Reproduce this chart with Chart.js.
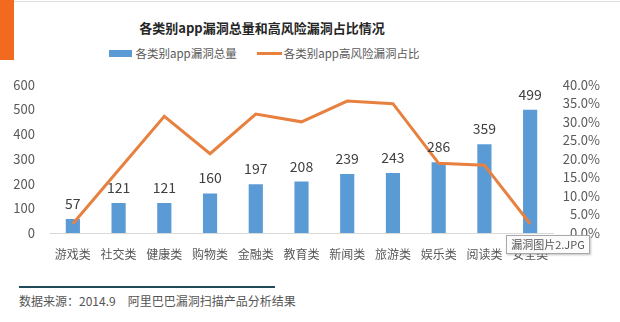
<!DOCTYPE html>
<html>
<head>
<meta charset="utf-8">
<script src="https://cdn.jsdelivr.net/npm/chart.js@4/dist/chart.umd.min.js"></script>
<style>
  body { margin: 0; width: 620px; height: 322px; background: #fff; position: relative; overflow: hidden;
         font-family: "Microsoft YaHei", "Noto Sans CJK SC", sans-serif; }
  #tab { position: absolute; left: 0; top: 0; width: 14px; height: 60px; background: #f26a1f; }
  #topline { position: absolute; left: 14px; top: 1px; right: 0; height: 1px; background: #dedede; }
  #title { position: absolute; left: 0; top: 18px; width: 524px; text-align: center;
           font-size: 13px; font-weight: bold; color: #262626; }
  #legend { position: absolute; left: 0; top: 45px; width: 528px; display: flex; justify-content: center;
            align-items: center; font-size: 11.5px; color: #595959; }
  .sw-bar { width: 23px; height: 7px; background: #5b9bd5; margin-right: 4px; }
  .sw-line { width: 25px; height: 3px; background: #e8813f; margin: 0 2px 0 20px; }
  #wrap { position: absolute; left: 0; top: 62px; width: 620px; height: 208px; }
  #footline { position: absolute; left: 19px; top: 286px; width: 256px; height: 2px; background: #1f4a58; }
  #source { position: absolute; left: 19px; top: 292px; font-size: 12px; color: #555; white-space: nowrap; }
  #tip { position: absolute; left: 506px; top: 235px; width: 82px; height: 17px; background: #fbfbfb;
         border: 1px solid #a8a8a8; box-shadow: 1px 1px 2px rgba(0,0,0,0.25);
         font-size: 11px; color: #555; line-height: 17px; text-align: center; }
</style>
</head>
<body>
<div id="tab"></div>
<div id="topline"></div>
<div id="title">各类别app漏洞总量和高风险漏洞占比情况</div>
<div id="legend">
  <div class="sw-bar"></div><span>各类别app漏洞总量</span>
  <div class="sw-line"></div><span>各类别app高风险漏洞占比</span>
</div>
<div id="wrap"><canvas id="chart"></canvas></div>
<div id="footline"></div>
<div id="source">数据来源：2014.9　阿里巴巴漏洞扫描产品分析结果</div>
<div id="tip">漏洞图片2.JPG</div>

<script>
const categories = ["游戏类", "社交类", "健康类", "购物类", "金融类", "教育类", "新闻类", "旅游类", "娱乐类", "阅读类", "安全类"];
const totals = [57, 121, 121, 160, 197, 208, 239, 243, 286, 359, 499];
const highRiskPct = [2.5, 17.0, 31.5, 21.4, 32.1, 30.0, 35.6, 34.9, 18.8, 18.3, 2.5];
const leftTicks = [0, 100, 200, 300, 400, 500, 600];
const rightTicks = [0, 5, 10, 15, 20, 25, 30, 35, 40];

const FONT = '"Microsoft YaHei", "Noto Sans CJK SC", sans-serif';

/* numbers above the bars */
const barLabels = {
  id: "barLabels",
  afterDatasetsDraw(chart) {
    const ctx = chart.ctx;
    const meta = chart.getDatasetMeta(0);
    ctx.save();
    ctx.font = "14px " + FONT;
    ctx.fillStyle = "#404040";
    ctx.textAlign = "center";
    ctx.textBaseline = "alphabetic";
    meta.data.forEach((bar, i) => ctx.fillText(totals[i], bar.x, bar.y - 10));
    ctx.restore();
  },
};

const ctx = document.getElementById("chart").getContext("2d");
new Chart(ctx, {
  type: "bar",
  data: {
    labels: categories,
    datasets: [
      {
        label: "各类别app漏洞总量",
        data: totals,
        backgroundColor: "#5b9bd5",
        categoryPercentage: 1,
        barPercentage: 0.31,
        yAxisID: "y",
        order: 2,
      },
      {
        type: "line",
        label: "各类别app高风险漏洞占比",
        data: highRiskPct,
        borderColor: "#e8813f",
        borderWidth: 3,
        pointRadius: 0,
        tension: 0,
        yAxisID: "y1",
        order: 1,
      },
    ],
  },
  options: {
    responsive: true,
    maintainAspectRatio: false,
    animation: false,
    layout: { padding: { top: 13, right: 20, left: 0, bottom: 0 } },
    plugins: { legend: { display: false }, tooltip: { enabled: false } },
    scales: {
      x: {
        grid: { display: false, drawTicks: false },
        border: { color: "#d9d9d9", width: 1 },
        ticks: { color: "#595959", font: { size: 12, family: FONT }, padding: 14, maxRotation: 0, autoSkip: false },
        afterFit: (s) => { s.height = 37; },
      },
      y: {
        position: "left",
        min: 0,
        max: 600,
        grid: { display: false, drawTicks: false },
        border: { display: false },
        ticks: { color: "#595959", font: { size: 13, family: FONT }, padding: 15, autoSkip: false },
        afterBuildTicks: (s) => { s.ticks = leftTicks.map((v) => ({ value: v })); },
        afterFit: (s) => { s.width = 50; },
      },
      y1: {
        position: "right",
        min: 0,
        max: 40,
        grid: { display: false, drawTicks: false },
        border: { display: false },
        ticks: {
          color: "#595959",
          font: { size: 13, family: FONT },
          crossAlign: "far",
          autoSkip: false,
          callback: (v) => v.toFixed(1) + "%",
        },
        afterBuildTicks: (s) => { s.ticks = rightTicks.map((v) => ({ value: v })); },
        afterFit: (s) => { s.width = 47; },
      },
    },
  },
  plugins: [barLabels],
});
</script>
</body>
</html>
